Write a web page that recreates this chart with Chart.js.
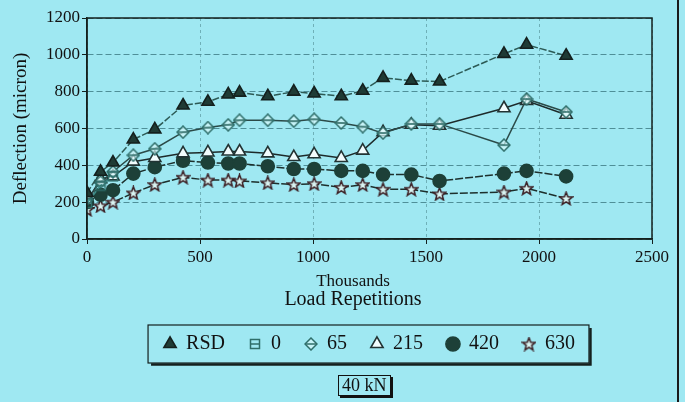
<!DOCTYPE html>
<html>
<head>
<meta charset="utf-8">
<script src="https://cdn.jsdelivr.net/npm/chart.js@4.4.1/dist/chart.umd.min.js"></script>
<style>
  html, body { margin: 0; padding: 0; background: #9fe8f2; }
  #wrap { position: relative; width: 685px; height: 402px; overflow: hidden; background: #9fe8f2; }
  #chartDeflection { position: absolute; left: 0; top: 0; }
  .lbl { position: absolute; font-family: "Liberation Serif", serif; color: #111; white-space: nowrap; transform: translateX(-50%); }
  #frameRight { position: absolute; left: 677px; top: 0; width: 2px; height: 402px; background: #1a1a1a; }
  #loadBox { position: absolute; left: 338px; top: 375px; font-family: "Liberation Serif", serif; font-size: 18px; line-height: 19px;
             padding: 0 3px; border: 1px solid #111; box-shadow: 2px 2px 0 #111; color: #111; }
</style>
</head>
<body>
<div id="wrap">
  <canvas id="chartDeflection" width="685" height="402"></canvas>
  <div class="lbl" style="left:353px; top:271px; font-size:17px;">Thousands</div>
  <div class="lbl" style="left:353px; top:287px; font-size:20px;">Load Repetitions</div>
  <div id="loadBox">40 kN</div>
  <div id="frameRight"></div>
</div>
<script>
// load repetitions (thousands)
const repetitions = [0, 60, 115, 205, 300, 425, 535, 625, 675, 800, 915, 1005, 1125, 1220, 1310, 1435, 1560, 1845, 1945, 2120];

// deflection (micron) per series
const rsd   = [250, 365, 415, 540, 595, 725, 745, 785, 795, 775, 800, 790, 775, 805, 875, 860, 855, 1005, 1055, 995];
const s0    = [195, 290, 340, null, null, null, null, null, null, null, null, null, null, null, null, null, null, null, null, null];
const s65   = [215, 310, 365, 455, 490, 580, 605, 620, 645, 645, 640, 650, 630, 610, 575, 625, 625, 510, 760, 690];
const s215  = [205, 325, 340, 420, 440, 465, 470, 475, 475, 465, 445, 460, 440, 480, 580, 620, 615, 710, 750, 675];
const s420  = [200, 240, 265, 355, 390, 425, 415, 410, 410, 395, 380, 380, 370, 370, 350, 350, 315, 355, 370, 340];
const s630  = [160, 180, 200, 250, 295, 335, 320, 320, 315, 305, 295, 300, 280, 295, 270, 270, 245, 255, 275, 220];

const yTicks = [0, 200, 400, 600, 800, 1000, 1200];
const xTicks = [0, 500, 1000, 1500, 2000, 2500];

const ink = '#14201e';
const seriesNames = ['RSD', '0', '65', '215', '420', '630'];

function toPoints(values) {
    return repetitions.map((x, i) => ({ x: x, y: values[i] }));
}

// small marker canvases for the symbols Chart.js has no style for
function markerCanvas(size, draw) {
    const c = document.createElement('canvas');
    c.width = size;
    c.height = size;
    const g = c.getContext('2d');
    g.lineWidth = 1.5;
    g.strokeStyle = ink;
    draw(g, size / 2);
    return c;
}

const starMark = markerCanvas(15, (g, m) => {
    g.beginPath();
    for (let i = 0; i < 10; i++) {
        const r = i % 2 === 0 ? 6.8 : 2.9;
        const a = -Math.PI / 2 + i * Math.PI / 5;
        const px = m + r * Math.cos(a), py = m + 0.5 + r * Math.sin(a);
        if (i === 0) g.moveTo(px, py); else g.lineTo(px, py);
    }
    g.closePath();
    g.fillStyle = '#d9f4f2';
    g.fill();
    g.strokeStyle = '#3a1d22';
    g.stroke();
});

const squareMark = markerCanvas(12, (g, m) => {
    g.strokeStyle = '#2f6e6a';
    g.strokeRect(1.5, 1.5, 9, 9);
    g.beginPath();
    g.moveTo(1.5, m);
    g.lineTo(10.5, m);
    g.stroke();
});

const diamondMark = markerCanvas(14, (g, m) => {
    g.strokeStyle = '#2f6e6a';
    g.fillStyle = 'rgba(215,248,250,0.7)';
    g.beginPath();
    g.moveTo(m, 1);
    g.lineTo(13, m);
    g.lineTo(m, 13);
    g.lineTo(1, m);
    g.closePath();
    g.fill();
    g.stroke();
    g.beginPath();
    g.moveTo(2, m);
    g.lineTo(12, m);
    g.stroke();
});

const datasets = [
    { label: seriesNames[0], data: toPoints(rsd), pointStyle: 'triangle', pointRadius: 7,
      backgroundColor: '#1f3b35', borderColor: '#2c5a55', borderDash: [7, 2], pointBorderColor: ink },
    { label: seriesNames[1], data: toPoints(s0), pointStyle: squareMark, pointRadius: 5,
      backgroundColor: 'rgba(0,0,0,0)', borderColor: '#3f8d8a', borderDash: [6, 3], pointBorderColor: '#3f8d8a' },
    { label: seriesNames[2], data: toPoints(s65), pointStyle: diamondMark, pointRadius: 6,
      backgroundColor: 'rgba(200,245,250,0.6)', borderColor: '#2b4a48', pointBorderColor: '#2f6e6a' },
    { label: seriesNames[3], data: toPoints(s215), pointStyle: 'triangle', pointRadius: 7,
      backgroundColor: '#f2fcfd', borderColor: '#1d2a2a', pointBorderColor: '#233' },
    { label: seriesNames[4], data: toPoints(s420), pointStyle: 'circle', pointRadius: 6.5,
      backgroundColor: '#1d4038', borderColor: '#1d2f2c', borderDash: [8, 2], pointBorderColor: '#1d4038' },
    { label: seriesNames[5], data: toPoints(s630), pointStyle: starMark, pointRadius: 7,
      backgroundColor: 'rgba(0,0,0,0)', borderColor: '#1d2f2c', borderDash: [8, 2], pointBorderColor: '#3a1f22' }
];
datasets.forEach(d => {
    d.borderWidth = 1.5;
    d.pointBorderWidth = 1.6;
    d.pointBackgroundColor = d.backgroundColor;
    d.tension = 0;
    d.spanGaps = false;
});

// box around the plot and around the legend
const framePlugin = {
    id: 'frames',
    afterDraw(chart) {
        const ctx = chart.ctx;
        const a = chart.chartArea;
        ctx.save();
        ctx.strokeStyle = ink;
        ctx.lineWidth = 1.5;
        ctx.strokeRect(a.left, a.top, a.right - a.left, a.bottom - a.top);

        const lg = chart.legend;
        if (lg && lg.legendHitBoxes.length) {
            const boxes = lg.legendHitBoxes;
            const left = Math.min(...boxes.map(b => b.left)) - 16;
            const right = Math.max(...boxes.map(b => b.left + b.width)) + 14;
            const top = Math.min(...boxes.map(b => b.top)) - 9;
            const bottom = Math.max(...boxes.map(b => b.top + b.height)) + 9;
            ctx.lineWidth = 1.2;
            ctx.strokeRect(left, top, right - left, bottom - top);
            ctx.lineWidth = 2.5;
            ctx.beginPath();
            ctx.moveTo(left + 3, bottom + 1.5);
            ctx.lineTo(right + 1.5, bottom + 1.5);
            ctx.lineTo(right + 1.5, top + 3);
            ctx.stroke();
        }
        ctx.restore();
    }
};

const plainNumber = (v) => String(v);

const ctx = document.getElementById('chartDeflection').getContext('2d');
new Chart(ctx, {
    type: 'line',
    data: { datasets: datasets },
    options: {
        responsive: false,
        animation: false,
        layout: { padding: { top: 18, right: 33, left: 0, bottom: 38 } },
        scales: {
            x: {
                type: 'linear',
                min: 0,
                max: 2500,
                afterBuildTicks: (scale) => { scale.ticks = xTicks.map(v => ({ value: v })); },
                afterFit: (scale) => { scale.height = 71; },
                grid: { color: '#6fb0b8', lineWidth: 1, drawTicks: true, tickLength: 5, tickColor: ink },
                border: { color: ink, width: 1.5, dash: [3, 3] },
                ticks: { color: '#111', font: { family: 'Liberation Serif', size: 17 }, padding: 3, maxRotation: 0,
                         callback: plainNumber }
            },
            y: {
                min: 0,
                max: 1200,
                afterBuildTicks: (scale) => { scale.ticks = yTicks.map(v => ({ value: v })); },
                afterFit: (scale) => { scale.width = 87; },
                grid: { color: '#4f8f98', lineWidth: 1, drawTicks: true, tickLength: 5, tickColor: ink },
                border: { color: ink, width: 1.5, dash: [6, 3] },
                ticks: { color: '#111', font: { family: 'Liberation Serif', size: 17 }, padding: 2,
                         callback: plainNumber },
                title: {
                    display: true,
                    text: 'Deflection (micron)',
                    color: '#111',
                    font: { family: 'Liberation Serif', size: 19 },
                    padding: { top: 10, bottom: 4 }
                }
            }
        },
        plugins: {
            legend: {
                display: true,
                position: 'bottom',
                fullSize: false,
                labels: {
                    usePointStyle: true,
                    boxWidth: 12,
                    boxHeight: 10,
                    padding: 24,
                    color: '#111',
                    font: { family: 'Liberation Serif', size: 20 }
                }
            },
            tooltip: { enabled: false }
        }
    },
    plugins: [framePlugin]
});
</script>
</body>
</html>
